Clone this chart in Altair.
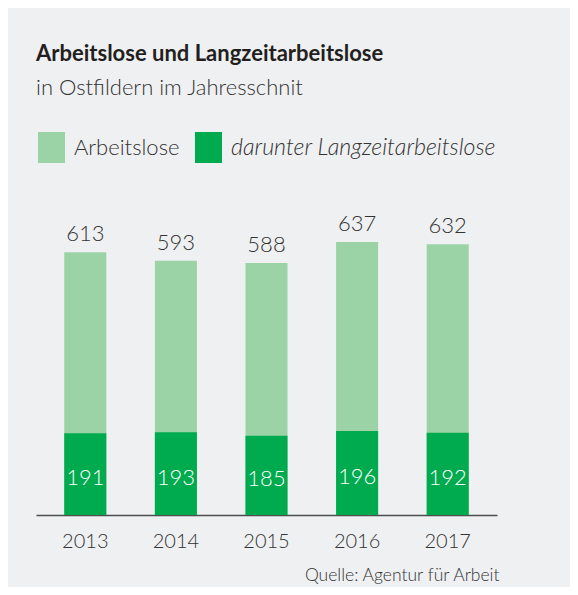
import altair as alt
import pandas as pd

years = ["2013", "2014", "2015", "2016", "2017"]
arbeitslose = [613, 593, 588, 637, 632]
langzeit = [191, 193, 185, 196, 192]
series = ["Arbeitslose", "darunter Langzeitarbeitslose"]
colors = ["#9BD3A6", "#00AA4E"]

rows = []
for y, v in zip(years, arbeitslose):
    rows.append({"Jahr": y, "Reihe": series[0], "Wert": v})
for y, v in zip(years, langzeit):
    rows.append({"Jahr": y, "Reihe": series[1], "Wert": v})
df = pd.DataFrame(rows)

FONT = "Lato"
TXT = "#333333"

x_enc = alt.X(
    "Jahr:N",
    sort=years,
    scale=alt.Scale(paddingInner=0.536, paddingOuter=0.312),
    axis=alt.Axis(
        title="Quelle: Agentur für Arbeit",
        titleFont=FONT,
        titleFontSize=17.5,
        titleFontWeight=300,
        titleColor=TXT,
        titleAnchor="end",
        titleAlign="right",
        titleBaseline="alphabetic",
        titleX=463,
        titleY=65,
        labelFont=FONT,
        labelFontSize=20,
        labelFontWeight=300,
        labelColor=TXT,
        labelAngle=0,
        labelBaseline="alphabetic",
        labelPadding=32,
        ticks=False,
        tickSize=0,
        domainColor="#4D4D4D",
        domainWidth=1.5,
        grid=False,
    ),
)
y_scale = alt.Scale(domain=[0, 700], nice=False)

italic_test = "datum.label == 'darunter Langzeitarbeitslose'"

bars = alt.Chart(df).mark_bar().encode(
    x=x_enc,
    y=alt.Y("Wert:Q", scale=y_scale, stack=None, axis=None),
    color=alt.Color(
        "Reihe:N",
        scale=alt.Scale(domain=series, range=colors),
        legend=alt.Legend(
            title=None,
            orient="none",
            legendX=0,
            legendY=-83,
            direction="horizontal",
            padding=0,
            symbolType="M-0.87,-1L0.87,-1L0.87,1L-0.87,1Z",
            symbolSize=961,
            symbolStrokeWidth=0,
            symbolOpacity=1,
            labelFont=FONT,
            labelFontSize={"expr": italic_test + " ? 23.2 : 22"},
            labelFontWeight=300,
            labelColor=TXT,
            labelOffset=7,
            labelLimit=600,
            columnPadding=13,
            labelFontStyle={"expr": italic_test + " ? 'italic' : 'normal'"},
        ),
    ),
)

totals = alt.Chart(df).transform_filter(
    alt.datum.Reihe == series[0]
).mark_text(baseline="alphabetic", dy=-11, font=FONT, fontSize=22, fontWeight=300, color=TXT).encode(
    x=alt.X("Jahr:N", sort=years),
    y=alt.Y("Wert:Q", scale=y_scale),
    text="Wert:Q",
)

inner = alt.Chart(df).transform_filter(
    alt.datum.Reihe == series[1]
).transform_calculate(
    mitte="datum.Wert / 2"
).mark_text(baseline="middle", dy=4, font=FONT, fontSize=22, fontWeight=300, color="white").encode(
    x=alt.X("Jahr:N", sort=years),
    y=alt.Y("mitte:Q", scale=y_scale),
    text="Wert:Q",
)

chart = alt.layer(bars, totals, inner).properties(
    width=461,
    height=300,
    autosize=alt.AutoSizeParams(type="none"),
    padding={"left": 28, "top": 207, "right": 73, "bottom": 72},
    background="#EFF0F2",
    title=alt.Title(
        text="Arbeitslose und Langzeitarbeitslose",
        subtitle="in Ostfildern im Jahresschnit",
        anchor="start",
        frame="group",
        orient="top",
        offset=32,
        font=FONT,
        fontSize=22,
        fontWeight="bold",
        color="#231F20",
        subtitleFont=FONT,
        subtitleFontSize=22,
        subtitleFontWeight=300,
        subtitleColor=TXT,
        subtitlePadding=12,
    ),
).configure_view(stroke=None)

chart.save("out.html", embed_options={"renderer": "svg", "actions": False})
